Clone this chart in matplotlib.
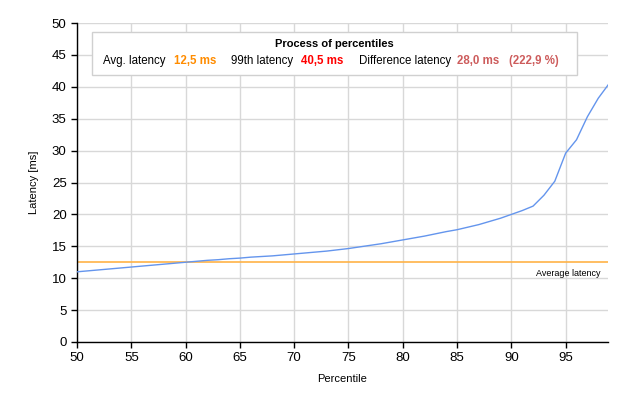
import matplotlib
matplotlib.use("Agg")
import matplotlib.pyplot as plt

percentiles = list(range(50, 100))
latency = [11.0, 11.15, 11.3, 11.45, 11.6, 11.75, 11.9, 12.05, 12.2, 12.35,
           12.5, 12.65, 12.8, 12.9, 13.05, 13.15, 13.3, 13.4, 13.5, 13.65,
           13.8, 13.95, 14.1, 14.25, 14.45, 14.65, 14.9, 15.15, 15.4, 15.7,
           16.0, 16.3, 16.6, 16.95, 17.3, 17.6, 18.0, 18.4, 18.9, 19.4,
           20.0, 20.6, 21.3, 23.0, 25.2, 29.6, 31.7, 35.3, 38.2, 40.5]
avg_latency = 12.5
p99_latency = 40.5
diff_pct_label = '(222,9 %)'
x_ticks = [50, 55, 60, 65, 70, 75, 80, 85, 90, 95]
y_ticks = [0, 5, 10, 15, 20, 25, 30, 35, 40, 45, 50]

plt.rcParams['font.family'] = ['Liberation Sans', 'DejaVu Sans']

W, H = 628, 404
fig = plt.figure(figsize=(W / 100, H / 100), dpi=100)
left, right, top, bottom = 77, 608, 23, 342
ax = fig.add_axes([left / W, 1 - bottom / H, (right - left) / W, (bottom - top) / H])

ax.plot(percentiles, latency, color='#6495ED', lw=1.0, zorder=3)
ax.axhline(avg_latency, color='#FFB347', lw=1.2, zorder=2)
ax.text(98.2, avg_latency - 1.0, 'Average latency', fontsize=6.5, ha='right', va='top')

ax.set_xlim(50, 98.9)
ax.set_ylim(0, 50)
ax.set_xticks(x_ticks)
ax.set_yticks(y_ticks)
ax.grid(True, color='#D8D8D8', lw=1.0, zorder=0)
ax.set_axisbelow(True)
for s in ['top', 'right']:
    ax.spines[s].set_visible(False)
for s in ['left', 'bottom']:
    ax.spines[s].set_color('black')
    ax.spines[s].set_linewidth(1.0)
ax.tick_params(axis='both', direction='out', length=4, width=1, labelsize=9.5, colors='black')
ax.set_xlabel('Percentile', fontsize=8)
ax.set_ylabel('Latency [ms]', fontsize=8)
ax.xaxis.set_label_coords((342 - left) / (right - left), -(374 - bottom) / (bottom - top))
ax.yaxis.set_label_coords(-(77 - 39) / (right - left), 0.5)

# Legend box
bx0, bx1, by0, by1 = 92, 577, 32, 75
rect = plt.Rectangle((bx0 / W, 1 - by1 / H), (bx1 - bx0) / W, (by1 - by0) / H,
                     transform=fig.transFigure, facecolor='white', edgecolor='#D0D0D0',
                     lw=1.0, zorder=5)
fig.patches.append(rect)

def ftxt(x, y, s, **kw):
    fig.text(x / W, 1 - y / H, s, va='center', zorder=6, **kw)

ftxt((bx0 + bx1) / 2, 44, 'Process of percentiles', ha='center', fontsize=8, fontweight='bold')
ftxt(103, 61, 'Avg. latency', fontsize=8.3)
ftxt(174, 61, f'{avg_latency:.1f} ms'.replace('.', ','), fontsize=8.3, fontweight='bold', color='#FF8C00')
ftxt(231, 61, '99th latency', fontsize=8.3)
ftxt(301, 61, f'{p99_latency:.1f} ms'.replace('.', ','), fontsize=8.3, fontweight='bold', color='#FF0000')
ftxt(359, 61, 'Difference latency', fontsize=8.3)
diff = p99_latency - avg_latency
ftxt(457, 61, f'{diff:.1f} ms'.replace('.', ','), fontsize=8.3, fontweight='bold', color='#CD5C5C')
ftxt(509, 61, diff_pct_label, fontsize=8.3, fontweight='bold', color='#CD5C5C')

fig.savefig('out.png', dpi=100)
